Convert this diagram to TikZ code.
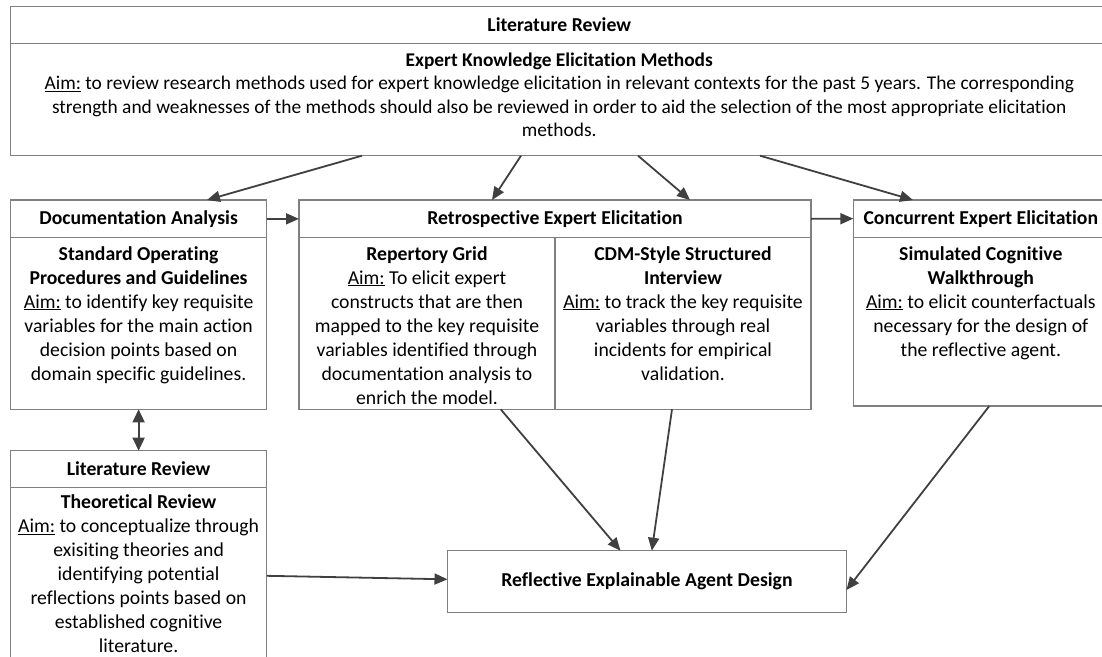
\documentclass[tikz,border=0pt]{standalone}
\usepackage{fontspec}
\setmainfont{Carlito}[Ligatures=NoCommon]
\usetikzlibrary{arrows.meta}
\definecolor{boxgray}{HTML}{808080}
\definecolor{arrgray}{HTML}{404040}
\newcommand{\aimlabel}{\underline{Aim:}}
\tikzset{every picture/.style={x=1pt,y=-1pt,every node/.style={inner sep=0pt,outer sep=0pt,font=\fontsize{19.7}{24}\selectfont}}}
\tikzset{
  head/.style={draw=boxgray,line width=1.1pt,anchor=north west,minimum height=37.7pt,font=\fontsize{19.7}{24}\selectfont\bfseries},
  body/.style={draw=boxgray,line width=1.1pt,anchor=north west},
  txt/.style={anchor=north,align=center},
  arr/.style={draw=arrgray,line width=1.8pt,-{Triangle[length=13pt,width=11pt]}}
}

\begin{document}
\begin{tikzpicture}
  \useasboundingbox (0,0) rectangle (1102,656);
  \clip (0,0) rectangle (1102,656);

  % literature review (top)
  \node[head, minimum width=1097.5pt, minimum height=36.8pt] (revh) at (10.5,6.5) {Literature Review};
  \node[body, minimum width=1097.5pt, minimum height=112.4pt] (revb) at (10.5,43.3) {};
  \node[txt, font=\fontsize{19.4}{23.4}\selectfont] (revt) at ([yshift=-6.7pt]revb.north)
    {\strut\textbf{Expert Knowledge Elicitation Methods}\\
     \aimlabel{} to review research methods used for expert knowledge elicitation in relevant contexts for the past 5 years. The corresponding\\
     strength and weaknesses of the methods should also be reviewed in order to aid the selection of the most appropriate elicitation\\
     methods.};

  % documentation analysis
  \node[head, minimum width=256.2pt] (doch) at (10.5,200) {Documentation Analysis};
  \node[body, minimum width=256.2pt, minimum height=171.6pt] (docb) at (10.5,237.7) {};
  \node[txt] (doct) at ([yshift=-5.5pt]docb.north)
    {\strut\textbf{Standard Operating}\\
     \textbf{Procedures and Guidelines}\\
     \aimlabel{} to identify key requisite\\
     variables for the main action\\
     decision points based on\\
     domain specific guidelines.};

  % retrospective elicitation
  \node[head, minimum width=512pt] (reth) at (299,200) {Retrospective Expert Elicitation};
  \node[body, minimum width=256pt, minimum height=171.6pt] (repb) at (299,237.7) {};
  \node[body, minimum width=256pt, minimum height=171.6pt] (cdmb) at (555,237.7) {};
  \node[txt] (rept) at ([yshift=-5.5pt]repb.north)
    {\strut\textbf{Repertory Grid}\\
     \aimlabel{} To elicit expert\\
     constructs that are then\\
     mapped to the key requisite\\
     variables identified through\\
     documentation analysis to\\
     enrich the model.};
  \node[txt] (cdmt) at ([yshift=-5.5pt]cdmb.north)
    {\strut\textbf{CDM-Style Structured}\\
     \textbf{Interview}\\
     \aimlabel{} to track the key requisite\\
     variables through real\\
     incidents for empirical\\
     validation.};

  % concurrent elicitation
  \node[head, minimum width=255pt, minimum height=37.3pt] (conh) at (853.3,200) {Concurrent Expert Elicitation};
  \node[body, minimum width=255pt, minimum height=168.7pt] (conb) at (853.3,237.3) {};
  \node[txt] (cont) at ([yshift=-6pt]conb.north)
    {\strut\textbf{Simulated Cognitive}\\
     \textbf{Walkthrough}\\
     \aimlabel{} to elicit counterfactuals\\
     necessary for the design of\\
     the reflective agent.};

  % literature review (bottom)
  \node[head, minimum width=256.2pt, minimum height=36.6pt] (theh) at (10.5,450.7) {Literature Review};
  \node[body, minimum width=256.2pt, minimum height=175pt] (theb) at (10.5,487.3) {};
  \node[txt] (thet) at ([yshift=-4.2pt]theb.north)
    {\strut\textbf{Theoretical Review}\\
     \aimlabel{} to conceptualize through\\
     exisiting theories and\\
     identifying potential\\
     reflections points based on\\
     established cognitive\\
     literature.};

  % agent design
  \node[body, minimum width=399pt, minimum height=61.6pt, font=\fontsize{19.7}{24}\selectfont\bfseries] (refl) at (447.5,550.7) {Reflective Explainable Agent Design};

  \draw[arr] ([xshift=351.5pt]revb.south west) -- ([xshift=196.5pt]doch.north west);
  \draw[arr] ([xshift=510.5pt]revb.south west) -- ([xshift=193pt]reth.north west);
  \draw[arr] ([xshift=627.5pt]revb.south west) -- ([xshift=391pt]reth.north west);
  \draw[arr] ([xshift=749.5pt]revb.south west) -- ([xshift=59.7pt]conh.north west);
  \draw[arr] (doch.east) -- (reth.west);
  \draw[arr] (reth.east) -- (conh.west);
  \draw[arr, {Triangle[length=13pt,width=12pt]}-{Triangle[length=13pt,width=12pt]}] (docb.south) -- (theh.north);
  \draw[arr] ([xshift=201.7pt]repb.south west) -- ([xshift=173pt]refl.north west);
  \draw[arr] ([xshift=117pt]cdmb.south west) -- ([xshift=204.3pt]refl.north west);
  \draw[arr] ([xshift=136pt]conb.south west) -- ([yshift=-8.5pt]refl.east);
  \draw[arr] ([yshift=-1pt]theb.east) -- ([yshift=2.2pt]refl.west);
\end{tikzpicture}
\end{document}
